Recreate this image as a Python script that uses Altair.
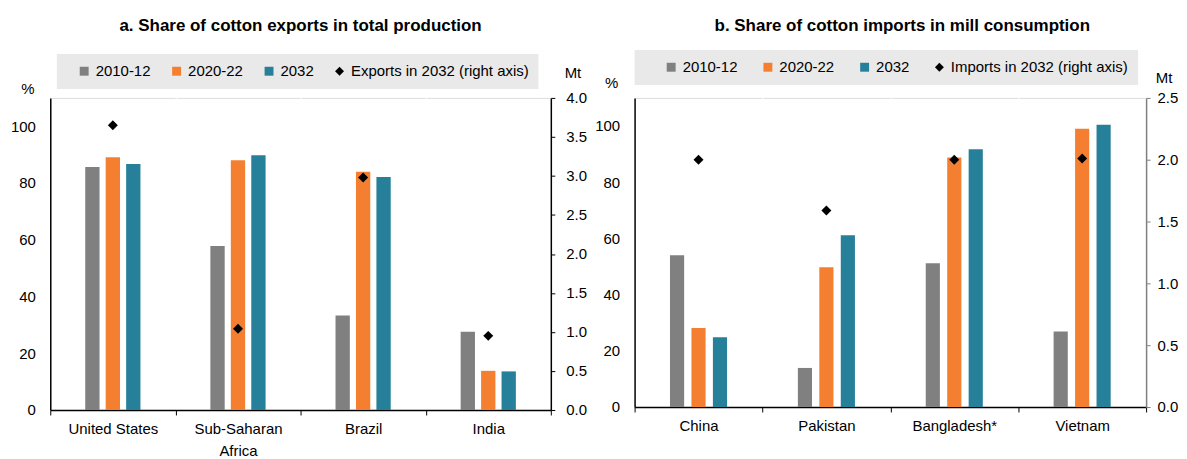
import altair as alt
import pandas as pd

periods = ["2010-12", "2020-22", "2032"]
bar_colors = ["#808080", "#F47F30", "#26809A"]
point_color = "#000000"

# Panel a
a_countries = ["United States", "Sub-Saharan Africa", "Brazil", "India"]
a_2010 = [85.6, 57.8, 33.3, 27.6]
a_2020 = [89.1, 88.0, 84.0, 13.8]
a_2032 = [86.7, 89.8, 82.1, 13.6]
a_exports = [3.65, 1.04, 2.98, 0.95]
a_point_label = "Exports in 2032 (right axis)"
a_title = "a. Share of cotton exports in total production"
a_right_ticks = [0.0, 0.5, 1.0, 1.5, 2.0, 2.5, 3.0, 3.5, 4.0]

# Panel b
b_countries = ["China", "Pakistan", "Bangladesh*", "Vietnam"]
b_2010 = [54.0, 13.9, 51.2, 26.9]
b_2020 = [28.1, 49.7, 88.8, 99.0]
b_2032 = [24.8, 61.1, 91.7, 100.4]
b_imports = [2.0, 1.59, 2.0, 2.01]
b_point_label = "Imports in 2032 (right axis)"
b_title = "b. Share of cotton imports in mill consumption"
b_right_ticks = [0.0, 0.5, 1.0, 1.5, 2.0, 2.5]

left_ticks = [0, 20, 40, 60, 80, 100]

FONT = "Liberation Sans, Arial, sans-serif"
FS = 15
TFS = 17


def panel(countries, v2010, v2020, v2032, pts, pt_label, pt_max, right_ticks,
          width, height, title, title_dx, title_off, legend_x, legend_y, col_pad,
          title_pad, nbsp, pct_x, pct_y, mt_x, mt_y, right_domain_color, right_lpad,
          off_pi, off_po):
    rows = []
    for c, a, b, d in zip(countries, v2010, v2020, v2032):
        rows.append({"country": c, "series": periods[0], "value": a})
        rows.append({"country": c, "series": periods[1], "value": b})
        rows.append({"country": c, "series": periods[2], "value": d})
    bar_df = pd.DataFrame(rows)
    pt_df = pd.DataFrame({"country": countries, "series": [pt_label] * len(countries), "value": pts})

    series_all = periods + [pt_label]
    color_scale = alt.Scale(domain=series_all, range=bar_colors + [point_color])
    shape_scale = alt.Scale(domain=series_all, range=["square", "square", "square", "diamond"])

    legend_kw = dict(
        orient="none", legendX=legend_x, legendY=legend_y, direction="horizontal",
        fillColor="#e9e9e9", padding=9.5, columnPadding=col_pad,
        labelFontSize=FS, labelFont=FONT, labelColor="#000000", labelOffset=4,
        labelLimit=400, symbolSize=80, symbolStrokeWidth=0, symbolOpacity=1,
        title="\u00a0", titleOrient="left", titleFontSize=1, titlePadding=title_pad,
    )
    if nbsp > 0:
        legend_kw["labelExpr"] = "datum.label == '%s' ? datum.label + '%s' : datum.label" % (
            pt_label, "\u00a0" * nbsp)
    legend = alt.Legend(**legend_kw)

    x_axis = alt.Axis(
        title=None, labelAngle=0, labelFontSize=FS, labelFont=FONT, labelColor="#000000",
        labelPadding=7, labelLineHeight=22, tickBand="extent", ticks=True, tickSize=5,
        tickColor="#000000", domainColor="#000000", domainWidth=1.5,
        grid=True, gridColor="#ffffff", gridWidth=2,
        labelExpr="datum.label == 'Sub-Saharan Africa' ? ['Sub-Saharan', 'Africa'] : datum.label",
    )
    x_enc = alt.X("country:N", sort=countries,
                  scale=alt.Scale(domain=countries, paddingInner=0, paddingOuter=0),
                  axis=x_axis)

    offset_domain = ["pad_l"] + periods + ["pad_r"]
    bars = alt.Chart(bar_df).mark_bar().encode(
        x=x_enc,
        xOffset=alt.XOffset("series:N",
                            scale=alt.Scale(domain=offset_domain, paddingInner=off_pi, paddingOuter=off_po)),
        y=alt.Y("value:Q", scale=alt.Scale(domain=[0, 110], nice=False),
                axis=alt.Axis(values=left_ticks, title="%", titleAngle=0, titleAlign="center",
                              titleBaseline="alphabetic", titleX=pct_x, titleY=pct_y,
                              titleFontSize=FS, titleFont=FONT, titleFontWeight="normal",
                              titleColor="#000000",
                              labelFontSize=FS, labelFont=FONT, labelColor="#000000",
                              labelPadding=15, ticks=False, domainColor="#000000",
                              domainWidth=1.5, grid=True, gridColor="#ffffff", gridWidth=2)),
        color=alt.Color("series:N", scale=color_scale, legend=legend),
    )

    points = alt.Chart(pt_df).mark_point(filled=True, opacity=1, size=100).encode(
        x=x_enc,
        y=alt.Y("value:Q", scale=alt.Scale(domain=[0, pt_max], nice=False),
                axis=alt.Axis(orient="right", values=right_ticks, format=".1f",
                              title="Mt", titleAngle=0, titleAlign="center",
                              titleBaseline="alphabetic", titleX=mt_x, titleY=mt_y,
                              titleFontSize=FS, titleFont=FONT, titleFontWeight="normal",
                              titleColor="#000000",
                              labelFontSize=FS, labelFont=FONT, labelColor="#000000",
                              labelPadding=right_lpad, ticks=True, tickSize=4,
                              tickColor=right_domain_color, domainColor=right_domain_color,
                              domainWidth=1.5, grid=False)),
        color=alt.Color("series:N", scale=color_scale, legend=legend),
        shape=alt.Shape("series:N", scale=shape_scale, legend=legend),
    )

    return alt.layer(bars, points).resolve_scale(y="independent").properties(
        width=width, height=height,
        title=alt.TitleParams(title, fontSize=TFS, font=FONT, fontWeight="bold", color="#000000",
                              anchor="middle", frame="group", dx=title_dx, offset=title_off),
    )


left = panel(a_countries, a_2010, a_2020, a_2032, a_exports, a_point_label, 4.0, a_right_ticks,
             502, 313, a_title, 0, 19, 6.6, -44, 17.7, 10.4, 0, -23, -4.5, 21.7, -20.5,
             "#000000", 11, 0.3, 0.71)
right = panel(b_countries, b_2010, b_2020, b_2032, b_imports, b_point_label, 2.5, b_right_ticks,
              513, 310, b_title, 12, 15, 0, -48, 22, 19.7, 7, -23.4, -10.5, 17.6, -15.5,
              "#808080", 7, 0.34, 0.65)

chart = alt.hconcat(left, right, spacing=6).resolve_scale(
    color="independent", shape="independent", x="independent", xOffset="independent"
).resolve_legend(color="independent", shape="independent").properties(
    padding={"left": 1.4, "top": 7.5, "right": 0, "bottom": 0}
).configure_view(fill="#e9e9e9", strokeWidth=0).configure(font=FONT)

chart.save("out.html", embed_options={"renderer": "svg", "actions": False})
